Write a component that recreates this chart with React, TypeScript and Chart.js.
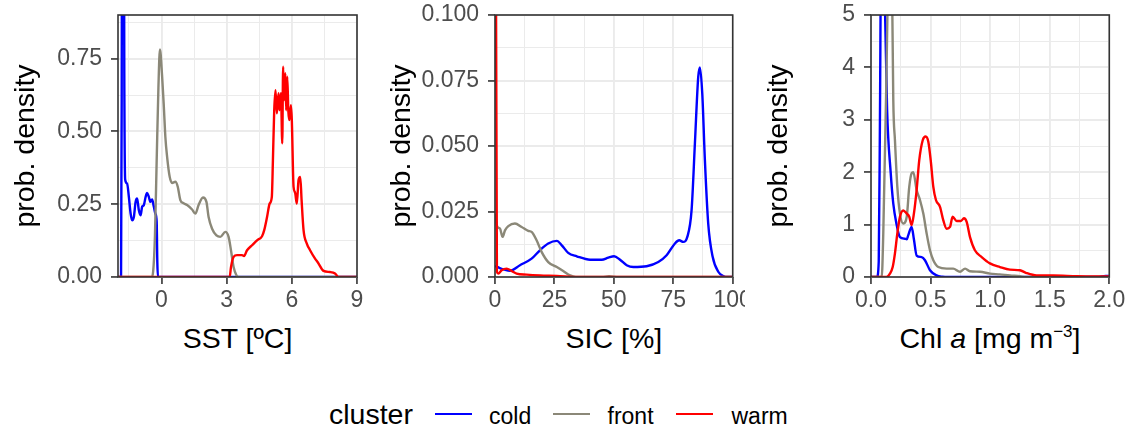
import React, { useEffect, useRef } from 'react';
import { Chart, registerables } from 'chart.js';

Chart.register(...registerables);

const FONT = "'Liberation Sans', Arial, Helvetica, sans-serif";
Chart.defaults.font.family = FONT;

// ---------- colours / names ----------
const clusterNames = ['cold', 'front', 'warm'];
const clusterColors = ['#0000FF', '#8B8878', '#FF0000'];

// ---------- SST panel ----------
const sstColdX = [-2, -1.86, -1.83, -1.8, -1.78, -1.71, -1.67, -1.58, -1.5, -1.42, -1.35, -1.27, -1.19, -1.12, -1.04, -0.96, -0.89, -0.81, -0.73, -0.66, -0.58, -0.51, -0.43, -0.35, -0.28, -0.22, -0.19, -0.16, 9];
const sstColdY = [0, 0, 0.6, 2.2, 3.0, 0.7, 0.335, 0.321, 0.275, 0.218, 0.195, 0.206, 0.258, 0.27, 0.229, 0.212, 0.241, 0.247, 0.275, 0.289, 0.275, 0.258, 0.266, 0.241, 0.218, 0.19, 0.05, 0, 0];

const sstFrontX = [-2, -0.45, -0.38, -0.3, -0.22, -0.14, -0.07, 0.03, 0.11, 0.18, 0.26, 0.38, 0.49, 0.64, 0.75, 0.87, 1.0, 1.18, 1.41, 1.56, 1.71, 1.91, 2.07, 2.17, 2.33, 2.53, 2.71, 2.94, 3.09, 3.2, 3.32, 3.45, 3.55, 9];
const sstFrontY = [0, 0, 0.02, 0.14, 0.4, 0.65, 0.782, 0.69, 0.585, 0.481, 0.413, 0.344, 0.323, 0.327, 0.31, 0.264, 0.254, 0.247, 0.232, 0.218, 0.247, 0.273, 0.258, 0.206, 0.166, 0.143, 0.138, 0.155, 0.138, 0.092, 0.034, 0.006, 0, 0];

const sstWarmX = [-2, 3.14, 3.2, 3.32, 3.48, 3.71, 3.8, 3.94, 4.17, 4.4, 4.63, 4.73, 4.86, 4.98, 5.08, 5.13, 5.19, 5.25, 5.31, 5.39, 5.43, 5.5, 5.56, 5.6, 5.65, 5.7, 5.74, 5.79, 5.84, 5.89, 5.96, 6.0, 6.08, 6.15, 6.23, 6.31, 6.39, 6.45, 6.54, 6.69, 6.84, 7.07, 7.2, 7.46, 7.76, 7.99, 8.15, 9];
const sstWarmY = [0, 0, 0.034, 0.069, 0.075, 0.075, 0.072, 0.092, 0.109, 0.126, 0.14, 0.161, 0.206, 0.252, 0.275, 0.401, 0.573, 0.642, 0.562, 0.631, 0.573, 0.631, 0.459, 0.722, 0.608, 0.7, 0.573, 0.688, 0.57, 0.539, 0.59, 0.539, 0.31, 0.29, 0.252, 0.333, 0.344, 0.264, 0.161, 0.115, 0.092, 0.063, 0.05, 0.021, 0.017, 0.012, 0, 0];

// ---------- SIC panel ----------
const sicColdX = [0, 2, 4, 6.3, 10.5, 15.4, 18.9, 22.4, 26.0, 28.1, 30.8, 34.4, 40, 44.9, 47.7, 50.1, 52.6, 55.4, 58.2, 63.8, 68.7, 72.2, 75.7, 77.5, 79.2, 80.9, 82.7, 84.1, 85.5, 86.2, 87.2, 88.3, 89.7, 91.6, 94, 96, 98, 100];
const sicColdY = [0.0042, 0.0034, 0.0028, 0.0024, 0.0045, 0.007, 0.0102, 0.0128, 0.0138, 0.0121, 0.0092, 0.0079, 0.0066, 0.0066, 0.0074, 0.0079, 0.0066, 0.0045, 0.0038, 0.0041, 0.0057, 0.0083, 0.0128, 0.014, 0.0134, 0.0153, 0.0255, 0.051, 0.0764, 0.08, 0.07, 0.0446, 0.0204, 0.0076, 0.0019, 0.0004, 0, 0];

const sicFrontX = [0, 0.5, 1.0, 2.1, 3.2, 4.2, 5.6, 8.4, 11.2, 14.0, 15.4, 17.5, 19.6, 22.4, 26.0, 28.7, 31.6, 34, 45, 48, 52, 100];
const sicFrontY = [0.024, 0.021, 0.0191, 0.0185, 0.0153, 0.0178, 0.0194, 0.0204, 0.0191, 0.0176, 0.0172, 0.014, 0.0096, 0.0057, 0.0038, 0.0023, 0.0006, 0, 0, 0.0003, 0, 0];

const sicWarmX = [0, 0.45, 0.8, 1.4, 2.8, 4.9, 7.0, 9.1, 13.3, 18.9, 26, 35, 100];
const sicWarmY = [0.6, 0.1, 0.002, 0.0013, 0.0026, 0.0032, 0.0023, 0.0013, 0.0009, 0.0006, 0.0004, 0, 0];

// ---------- Chl a panel ----------
const chlColdX = [0, 0.05, 0.065, 0.075, 0.09, 0.11, 0.135, 0.165, 0.187, 0.215, 0.243, 0.285, 0.3, 0.313, 0.341, 0.36, 0.383, 0.425, 0.453, 0.495, 0.55, 0.6, 0.65, 1.9, 1.97, 2.0];
const chlColdY = [0, 0, 0.3, 3, 8, 6, 3.2, 2.0, 1.4, 1.0, 0.76, 0.73, 0.72, 0.8, 0.955, 0.72, 0.41, 0.38, 0.32, 0.13, 0.03, 0.005, 0, 0, 0.02, 0.02];

const chlFrontX = [0, 0.09, 0.103, 0.126, 0.145, 0.16, 0.175, 0.187, 0.201, 0.221, 0.243, 0.271, 0.3, 0.321, 0.341, 0.355, 0.383, 0.411, 0.439, 0.467, 0.495, 0.523, 0.565, 0.635, 0.69, 0.747, 0.79, 0.83, 0.914, 0.998, 1.08, 1.166, 1.25, 1.3, 2.0];
const chlFrontY = [0, 0, 0.83, 3.38, 6, 9, 6, 3.38, 2.61, 1.72, 1.21, 1.02, 1.15, 1.72, 1.98, 2.0, 1.66, 1.47, 1.21, 0.83, 0.51, 0.32, 0.19, 0.16, 0.16, 0.1, 0.16, 0.11, 0.1, 0.065, 0.05, 0.03, 0.015, 0, 0];

const chlWarmX = [0, 0.13, 0.159, 0.182, 0.201, 0.221, 0.243, 0.271, 0.3, 0.321, 0.341, 0.36, 0.383, 0.405, 0.434, 0.459, 0.481, 0.501, 0.523, 0.545, 0.579, 0.607, 0.635, 0.663, 0.685, 0.719, 0.755, 0.78, 0.803, 0.831, 0.872, 0.929, 0.998, 1.082, 1.166, 1.25, 1.3, 1.39, 1.53, 1.73, 2.0];
const chlWarmY = [0, 0, 0.065, 0.19, 0.45, 0.83, 1.15, 1.27, 1.21, 1.15, 0.99, 1.21, 1.66, 2.23, 2.61, 2.68, 2.58, 2.23, 1.72, 1.47, 1.34, 1.08, 0.92, 0.955, 1.15, 1.07, 1.07, 1.12, 1.05, 0.76, 0.51, 0.38, 0.26, 0.19, 0.14, 0.13, 0.08, 0.03, 0.03, 0.015, 0.01];

// ---------- axis definitions ----------
const sstXTicks = { min: -2, max: 9, step: 1.5, major: 3 };
const sstYTicks = { min: 0, max: 0.9, step: 0.125, major: 0.25 };
const sicXTicks = { min: 0, max: 100, step: 12.5, major: 25 };
const sicYTicks = { min: 0, max: 0.1, step: 0.0125, major: 0.025 };
const chlXTicks = { min: 0, max: 2, step: 0.25, major: 0.5 };
const chlYTicks = { min: 0, max: 5, step: 0.5, major: 1 };

const yTitle = 'prob. density';
const legendTitle = 'cluster';

const CANVAS_H = 320;
const PLOT_TOP = 15;
const PLOT_BOTTOM = 277;

const isMajor = (v: number, major: number) => {
  const r = v / major;
  return Math.abs(r - Math.round(r)) < 1e-6;
};

const borderPlugin = {
  id: 'panelBorder',
  afterDatasetsDraw(chart: any) {
    const { ctx, chartArea } = chart;
    const { left, top, right, bottom } = chartArea;
    ctx.save();
    ctx.strokeStyle = '#333333';
    ctx.lineWidth = 1.6;
    ctx.strokeRect(left, top, right - left, bottom - top);
    ctx.restore();
  },
};

function gridOpts(major: number) {
  return {
    display: true,
    drawOnChartArea: true,
    drawTicks: true,
    tickLength: 7,
    color: '#EBEBEB',
    lineWidth: (c: any) => (c.tick && isMajor(c.tick.value, major) ? 1.9 : 1.0),
    tickColor: (c: any) => (c.tick && isMajor(c.tick.value, major) ? '#333333' : 'rgba(0,0,0,0)'),
    tickWidth: 1.6,
  };
}

type Series = { x: number[]; y: number[] };
type PanelDef = {
  left: number;
  width: number;
  yWidth: number;
  plotRight: number;
  titlePad: number;
  xT: { min: number; max: number; step: number; major: number };
  yT: { min: number; max: number; step: number; major: number };
  xFmt: (v: number) => string;
  yFmt: (v: number) => string;
  series: Series[];
};

function makeConfig(p: PanelDef): any {
  const rightPad = p.width - (p.plotRight - p.left);
  return {
    type: 'line',
    data: {
      datasets: p.series.map((s, i) => ({
        label: clusterNames[i],
        data: s.x.map((x, k) => ({ x, y: s.y[k] })),
        borderColor: clusterColors[i],
        backgroundColor: clusterColors[i],
        borderWidth: 2.4,
        pointRadius: 0,
        fill: false,
        cubicInterpolationMode: 'monotone',
        order: 3 - i,
      })),
    },
    options: {
      animation: false,
      responsive: false,
      devicePixelRatio: 1,
      events: [],
      layout: { padding: { top: PLOT_TOP, right: rightPad, left: 0, bottom: 0 } },
      plugins: { legend: { display: false }, tooltip: { enabled: false } },
      scales: {
        x: {
          type: 'linear',
          position: 'bottom',
          min: p.xT.min,
          max: p.xT.max,
          border: { display: false },
          grid: gridOpts(p.xT.major),
          ticks: {
            stepSize: p.xT.step,
            includeBounds: false,
            autoSkip: false,
            maxRotation: 0,
            minRotation: 0,
            padding: 3,
            color: '#4D4D4D',
            font: { size: 23, family: FONT },
            callback: (v: number) => (isMajor(v, p.xT.major) ? p.xFmt(v) : ''),
          },
          afterFit: (s: any) => {
            s.height = CANVAS_H - PLOT_BOTTOM;
            s.paddingLeft = 0;
            s.paddingRight = 0;
          },
        },
        y: {
          type: 'linear',
          position: 'left',
          min: p.yT.min,
          max: p.yT.max,
          border: { display: false },
          grid: gridOpts(p.yT.major),
          title: {
            display: true,
            text: yTitle,
            color: '#000000',
            font: { size: 28.5, family: FONT },
            padding: { top: p.titlePad, bottom: 0 },
          },
          ticks: {
            stepSize: p.yT.step,
            includeBounds: false,
            autoSkip: false,
            padding: 9,
            color: '#4D4D4D',
            font: { size: 23, family: FONT },
            callback: (v: number) => (isMajor(v, p.yT.major) ? p.yFmt(v) : ''),
          },
          afterFit: (s: any) => {
            s.width = p.yWidth;
            s.paddingTop = 0;
            s.paddingBottom = 0;
          },
        },
      },
    },
    plugins: [borderPlugin],
  };
}

const panels: PanelDef[] = [
  {
    left: 0, width: 372, yWidth: 118, plotRight: 357, titlePad: 9,
    xT: sstXTicks, yT: sstYTicks,
    xFmt: (v) => String(v), yFmt: (v) => v.toFixed(2),
    series: [
      { x: sstColdX, y: sstColdY },
      { x: sstFrontX, y: sstFrontY },
      { x: sstWarmX, y: sstWarmY },
    ],
  },
  {
    left: 375, width: 370, yWidth: 120, plotRight: 732.7, titlePad: 10,
    xT: sicXTicks, yT: sicYTicks,
    xFmt: (v) => String(Math.round(v)), yFmt: (v) => v.toFixed(3),
    series: [
      { x: sicColdX, y: sicColdY },
      { x: sicFrontX, y: sicFrontY },
      { x: sicWarmX, y: sicWarmY },
    ],
  },
  {
    left: 752, width: 383, yWidth: 119, plotRight: 1109.3, titlePad: 10,
    xT: chlXTicks, yT: chlYTicks,
    xFmt: (v) => v.toFixed(1), yFmt: (v) => String(Math.round(v)),
    series: [
      { x: chlColdX, y: chlColdY },
      { x: chlFrontX, y: chlFrontY },
      { x: chlWarmX, y: chlWarmY },
    ],
  },
];

function Panel({ def }: { def: PanelDef }) {
  const ref = useRef<HTMLCanvasElement | null>(null);
  useEffect(() => {
    if (!ref.current) return;
    const chart = new Chart(ref.current, makeConfig(def));
    return () => chart.destroy();
  }, [def]);
  return (
    <canvas
      ref={ref}
      width={def.width}
      height={CANVAS_H}
      style={{ position: 'absolute', left: def.left, top: 0, width: def.width, height: CANVAS_H }}
    />
  );
}

const titleStyle = (cx: number): React.CSSProperties => ({
  position: 'absolute',
  left: cx - 150,
  width: 300,
  top: 324,
  textAlign: 'center',
  fontFamily: FONT,
  fontSize: 28.5,
  lineHeight: '28.5px',
  color: '#000',
  whiteSpace: 'nowrap',
});

const legendText = (left: number, size: number): React.CSSProperties => ({
  position: 'absolute',
  left,
  top: 424 - size * 0.8465,
  fontFamily: FONT,
  fontSize: size,
  lineHeight: `${size}px`,
  color: '#000',
  whiteSpace: 'nowrap',
});

const legendLine = (left: number, color: string): React.CSSProperties => ({
  position: 'absolute',
  left,
  top: 413,
  width: 37,
  height: 2.4,
  background: color,
});

export default function App() {
  return (
    <div style={{ position: 'fixed', left: 0, top: 0, width: 1135, height: 430, background: '#fff', overflow: 'hidden' }}>
      {panels.map((p, i) => (
        <Panel key={i} def={p} />
      ))}
      <div style={titleStyle(237.5)}>SST [ºC]</div>
      <div style={titleStyle(613.9)}>SIC [%]</div>
      <div style={titleStyle(990)}>
        Chl <i>a</i> [mg m
        <span style={{ fontSize: 17, position: 'relative', top: -11.5 }}>−3</span>]
      </div>
      <div style={legendText(329, 28.5)}>{legendTitle}</div>
      <div style={legendLine(435, clusterColors[0])} />
      <div style={legendText(489, 23)}>{clusterNames[0]}</div>
      <div style={legendLine(553, clusterColors[1])} />
      <div style={legendText(607.5, 23)}>{clusterNames[1]}</div>
      <div style={legendLine(676, clusterColors[2])} />
      <div style={legendText(731.5, 23)}>{clusterNames[2]}</div>
    </div>
  );
}
